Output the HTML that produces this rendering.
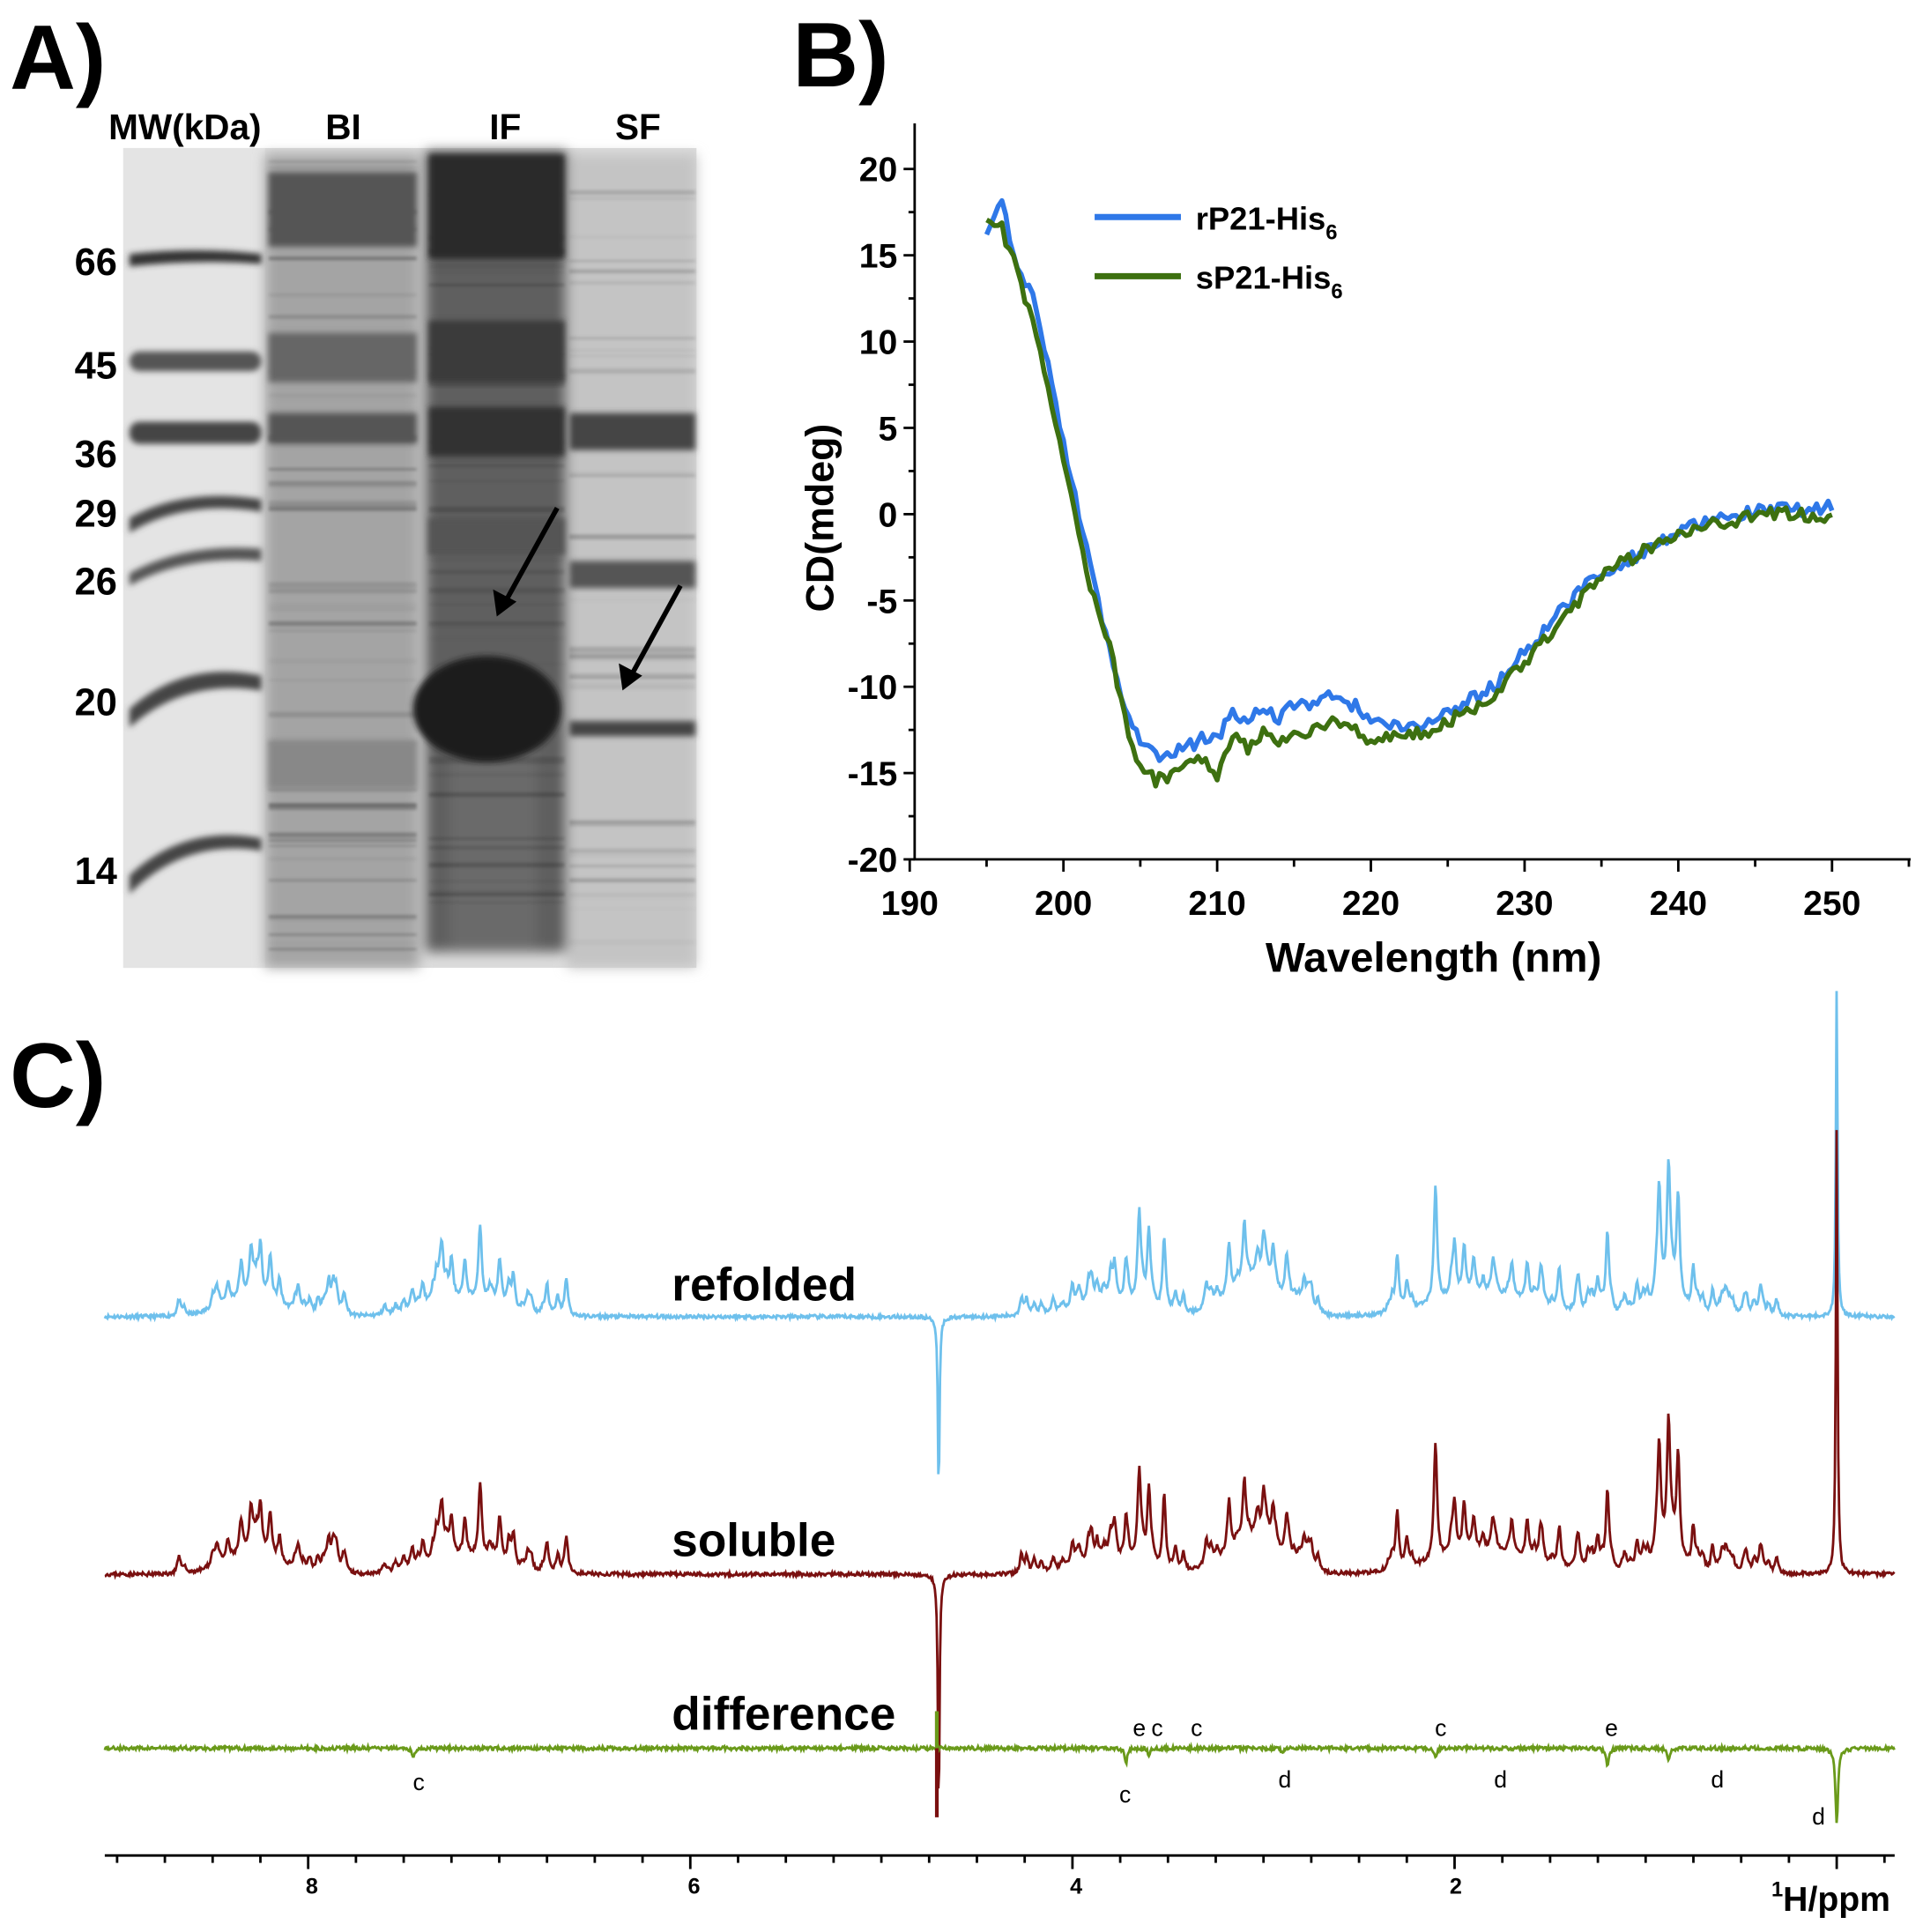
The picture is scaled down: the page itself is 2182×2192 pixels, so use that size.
<!DOCTYPE html>
<html><head><meta charset="utf-8"><style>
html,body{margin:0;padding:0;background:#fff;}
svg{display:block;}
text{font-family:"Liberation Sans",Arial,sans-serif;font-weight:bold;}
</style></head><body>
<svg id="s" width="2182" height="2192" viewBox="0 0 1560 1567" xmlns="http://www.w3.org/2000/svg">
<defs>
<filter id="b1"><feGaussianBlur stdDeviation="1.2"/></filter>
<filter id="b2"><feGaussianBlur stdDeviation="2.5"/></filter>
<filter id="b5"><feGaussianBlur stdDeviation="5"/></filter>
</defs>
<rect width="1560" height="1567" fill="#fff"/>
<text x="8" y="72" font-size="74">A)</text>
<text x="643" y="70" font-size="74">B)</text>
<text x="8" y="898" font-size="74">C)</text>

<g>
<rect x="100" y="120" width="465" height="665" fill="#dcdcdc"/>
<rect x="100" y="120" width="115" height="665" fill="#e4e4e4"/>
<g filter="url(#b5)">
<rect x="215" y="125" width="125" height="660" fill="#a4a4a4"/>
<rect x="345" y="122" width="115" height="650" fill="#5e5e5e"/>
<rect x="460" y="125" width="105" height="660" fill="#c4c4c4"/>
<rect x="365" y="600" width="70" height="170" fill="#6a6a6a"/>
</g>
<g id="gb" filter="url(#b1)"></g>
<g filter="url(#b2)">
<path d="M105 206 Q160 200 212 206 L212 214 Q160 210 105 216Z" fill="#333"/>
<rect x="105" y="285" width="107" height="16" rx="8" fill="#555"/>
<rect x="105" y="342" width="107" height="18" rx="8" fill="#444"/>
<path d="M105 420 Q150 395 212 405 L212 415 Q150 405 105 432Z" fill="#444"/>
<path d="M105 465 Q150 440 212 445 L212 455 Q150 450 105 475Z" fill="#555"/>
<path d="M105 575 Q150 535 212 548 L212 560 Q150 550 105 590Z" fill="#444"/>
<path d="M105 710 Q150 668 212 680 L212 690 Q150 680 105 725Z" fill="#444"/>
<rect x="218" y="140" width="120" height="60" fill="#555"/>
<rect x="218" y="270" width="120" height="40" fill="#666"/>
<rect x="218" y="335" width="120" height="25" fill="#555"/>
<rect x="218" y="600" width="120" height="40" fill="#888"/>
<rect x="348" y="125" width="110" height="85" fill="#2a2a2a"/>
<rect x="348" y="260" width="110" height="50" fill="#3a3a3a"/>
<rect x="348" y="330" width="110" height="40" fill="#333"/>
<rect x="348" y="420" width="110" height="30" fill="#555"/>
<ellipse cx="395" cy="575" rx="60" ry="43" fill="#1a1a1a"/>
<rect x="462" y="335" width="102" height="30" fill="#444"/>
<rect x="462" y="455" width="102" height="22" fill="#555"/>
<rect x="462" y="585" width="102" height="12" fill="#444"/>
</g>
<line x1="452" y1="412" x2="410" y2="488" stroke="#000" stroke-width="4"/>
<polygon points="403,500 400,478 419,488" fill="#000"/>
<line x1="552" y1="475" x2="512" y2="548" stroke="#000" stroke-width="4"/>
<polygon points="505,560 502,538 521,548" fill="#000"/>
</g>
<g font-size="29">
<text x="88" y="113">MW(kDa)</text>
<text x="264" y="113">BI</text>
<text x="397" y="113">IF</text>
<text x="499" y="113">SF</text>
<g text-anchor="end" font-size="31">
<text x="95" y="223">66</text><text x="95" y="307">45</text><text x="95" y="379">36</text>
<text x="95" y="427">29</text><text x="95" y="482">26</text><text x="95" y="580">20</text><text x="95" y="717">14</text>
</g></g>

<g stroke="#000" stroke-width="2" fill="none">
<path d="M742 100 V697 H1550"/>
<g id="yt"></g><g id="xt"></g>
</g>
<g id="ylab" font-size="28" text-anchor="end"></g>
<g id="xlab" font-size="28" text-anchor="middle"></g>
<text transform="translate(676 420) rotate(-90)" font-size="32" text-anchor="middle">CD(mdeg)</text>
<text x="1163" y="788" font-size="34" text-anchor="middle">Wavelength (nm)</text>
<line x1="888" y1="176" x2="958" y2="176" stroke="#2f78e8" stroke-width="5"/>
<line x1="888" y1="224" x2="958" y2="224" stroke="#3d7010" stroke-width="5"/>
<text x="970" y="186" font-size="26">rP21-His<tspan font-size="17" dy="8">6</tspan></text>
<text x="970" y="234" font-size="26">sP21-His<tspan font-size="17" dy="8">6</tspan></text>
<path id="cb" fill="none" stroke="#2f78e8" stroke-width="4" stroke-linejoin="round"/>
<path id="cg" fill="none" stroke="#3d7010" stroke-width="4" stroke-linejoin="round"/>

<path id="sr" fill="none" stroke="#6ec0ec" stroke-width="2"/>
<path id="ss" fill="none" stroke="#7a1010" stroke-width="2"/>
<path id="sd" fill="none" stroke="#6a9a1a" stroke-width="2"/>
<g font-size="38"><text x="545" y="1055">refolded</text><text x="545" y="1262">soluble</text><text x="545" y="1403">difference</text></g>
<g font-size="19">
<text x="335" y="1452" style="font-weight:normal">c</text>
<text x="908" y="1462" style="font-weight:normal">c</text>
<text x="919" y="1408" style="font-weight:normal">e</text>
<text x="934" y="1408" style="font-weight:normal">c</text>
<text x="966" y="1408" style="font-weight:normal">c</text>
<text x="1037" y="1450" style="font-weight:normal">d</text>
<text x="1164" y="1408" style="font-weight:normal">c</text>
<text x="1212" y="1450" style="font-weight:normal">d</text>
<text x="1302" y="1408" style="font-weight:normal">e</text>
<text x="1388" y="1450" style="font-weight:normal">d</text>
<text x="1470" y="1480" style="font-weight:normal">d</text>
</g>
<g stroke="#000" stroke-width="2"><line x1="85" y1="1505" x2="1537" y2="1505"/><g id="ct"></g></g>
<g font-size="18" text-anchor="middle"><text x="253" y="1536">8</text><text x="563" y="1536">6</text><text x="873" y="1536">4</text><text x="1181" y="1536">2</text></g>
<text x="1437" y="1550" font-size="28"><tspan font-size="17" dy="-12">1</tspan><tspan dy="12">H/ppm</tspan></text>
</svg>
<script>
var NS="http://www.w3.org/2000/svg";
function el(p,t,a,txt){var e=document.createElementNS(NS,t);for(var k in a)e.setAttribute(k,a[k]);if(txt!==undefined)e.textContent=txt;p.appendChild(e);return e;}
var seed=7;function rnd(){seed=(seed*16807)%2147483647;return seed/2147483647;}
// gel texture bands
(function(){var g=document.getElementById('gb');seed=99;
var lanes=[[218,120,0.25],[348,110,0.2],[462,102,0.18]];
for(var l=0;l<3;l++){for(var i=0;i<45;i++){var y=130+rnd()*640,h=1+rnd()*4;el(g,'rect',{x:lanes[l][0],y:y,width:lanes[l][1],height:h,fill:'#000','fill-opacity':(rnd()*lanes[l][2]).toFixed(2)});}}})();
var X=function(w){return 738+(w-190)*12.47},Y=function(v){return 417-v*14};
var yt=document.getElementById('yt'),yl=document.getElementById('ylab');
for(var v=-20;v<=20;v+=5){el(yt,'line',{x1:733,x2:742,y1:Y(v),y2:Y(v)});el(yl,'text',{x:728,y:Y(v)+10},String(v));}
for(var v=-17.5;v<=20;v+=5)el(yt,'line',{x1:737,x2:742,y1:Y(v),y2:Y(v)});
var xt=document.getElementById('xt'),xl=document.getElementById('xlab');
for(var w=190;w<=250;w+=10){el(xt,'line',{x1:X(w),x2:X(w),y1:697,y2:707});el(xl,'text',{x:X(w),y:742},String(w));}
for(var w=195;w<=255;w+=10)el(xt,'line',{x1:X(w),x2:X(w),y1:697,y2:703});
function interp(pts,w){for(var i=0;i<pts.length-1;i++){if(w>=pts[i][0]&&w<=pts[i+1][0]){var t=(w-pts[i][0])/(pts[i+1][0]-pts[i][0]);return pts[i][1]+t*(pts[i+1][1]-pts[i][1]);}}return pts[pts.length-1][1];}
var B=[[195,16],[196,18],[197,14],[198,12.5],[199,9],[200,4],[201,0],[202,-4],[203,-8],[204,-11],[205,-13],[206,-14],[207,-14],[208,-13.5],[209,-13],[210,-13],[211,-11.5],[212,-12],[213,-11],[214,-12],[215,-11],[216,-11],[217,-10.5],[218,-11],[219,-11],[220,-12],[222,-12.5],[224,-12],[226,-11],[228,-10],[230,-8],[232,-6],[234,-4],[236,-3],[238,-2],[240,-1],[242,-0.5],[244,0],[246,0.2],[248,0.3],[250,0.5]];
var G=[[195,17],[196,16.5],[197,14],[198,11],[199,7.5],[200,3],[201,-1],[202,-5],[203,-7.5],[204,-12],[205,-14.5],[206,-15.5],[207,-15],[208,-14.5],[209,-14],[210,-15],[211,-13],[212,-13.5],[213,-12.5],[214,-13],[215,-13],[216,-12.5],[218,-12],[220,-13],[222,-13],[224,-12.5],[226,-11.5],[228,-10.5],[230,-8.5],[232,-6.5],[234,-4.5],[236,-3],[238,-2],[240,-1],[242,-0.5],[244,-0.3],[246,0],[248,0],[250,-0.2]];
function curve(pts,id,n){var d='';for(var w=195;w<=250.01;w+=0.25){var v=interp(pts,w)+(rnd()-0.5)*n;d+=(d?'L':'M')+X(w).toFixed(1)+' '+Y(v).toFixed(1);}document.getElementById(id).setAttribute('d',d);}
curve(B,'cb',0.8);curve(G,'cg',0.8);
var ct=document.getElementById('ct');
for(var p=9;p>=-0.3;p-=0.25){var x=1490-155*p;if(x<85)continue;var maj=Math.abs(p-Math.round(p/2)*2)<1e-6;el(ct,'line',{x1:x,x2:x,y1:1505,y2:maj?1516:1511});}
var peaks=[[8.65,6],[8.5,10],[8.42,16],[8.35,25],[8.3,32],[8.25,40],[8.2,28],[8.15,20],[8.05,12],[7.95,8],[7.85,6],[7.6,8],[7.5,10],[7.4,18],[7.3,38],[7.25,32],[7.18,30],[7.1,62],[7.0,25],[6.95,20],[6.85,15],[6.75,25],[6.65,16],[4.2,10],[4.1,12],[4.0,14],[3.9,18],[3.8,22],[3.72,32],[3.65,70],[3.6,60],[3.52,60],[3.3,20],[3.18,38],[3.1,45],[3.0,36],[2.95,32],[2.88,28],[2.75,18],[2.3,45],[2.25,22],[2.1,95],[2.0,35],[1.95,40],[1.9,28],[1.8,25],[1.7,28],[1.62,32],[1.55,24],[1.45,20],[1.35,16],[1.25,22],[1.2,65],[0.93,75],[0.88,105],[0.83,85],[0.75,20],[0.65,20],[0.58,16],[0.4,10]];
(function(){seed=321;var regs=[[8.7,7.8],[7.6,6.6],[4.3,3.4],[3.3,2.7],[2.4,1.0],[1.0,0.3]];for(var r=0;r<regs.length;r++)for(var i=0;i<25;i++)peaks.push([regs[r][1]+rnd()*(regs[r][0]-regs[r][1]),3+rnd()*12]);})();
var humps=[[8.3,0.2,16],[7.2,0.25,14],[3.05,0.2,25],[3.8,0.25,10],[1.85,0.35,18],[0.88,0.1,15]];
function spec(id,base,zero,water,scale,s){seed=s;var d='';for(var x=85;x<=1537;x+=0.7){var p=(1490-x)/155,y=0;
for(var i=0;i<peaks.length;i++){var h=peaks[i][1]*scale;var dd=(p-peaks[i][0])/0.01;y+=h/(1+dd*dd);}
var dz=p/0.005;y+=zero/(1+dz*dz);
for(var i=0;i<humps.length;i++){var dd=(p-humps[i][0])/humps[i][1];y+=humps[i][2]*scale*Math.exp(-dd*dd);}
var dw=(p-4.7)/0.005;y-=water/(1+dw*dw);y+=(rnd()-0.5)*3;
d+=(d?'L':'M')+x.toFixed(1)+' '+(base-y).toFixed(1);}document.getElementById(id).setAttribute('d',d);}
spec('sr',1068,268,148,1,11);
spec('ss',1277,367,200,1.0,23);
(function(){seed=5;var d='';var neg=[[7.45,8],[3.72,12],[3.6,5],[2.9,4],[2.1,8],[1.2,16],[0.88,10],[0.0,62]];
for(var x=85;x<=1537;x+=0.7){var p=(1490-x)/155,y=(rnd()-0.5)*3;for(var i=0;i<neg.length;i++){var dd=(p-neg[i][0])/0.008;y-=neg[i][1]/(1+dd*dd);}
d+=(d?'L':'M')+x.toFixed(1)+' '+(1418-y).toFixed(1);}document.getElementById('sd').setAttribute('d',d);
var s=document.getElementById('s');el(s,'line',{x1:760,x2:760,y1:1388,y2:1474,stroke:'#7a1010','stroke-width':3});el(s,'line',{x1:760,x2:760,y1:1388,y2:1418,stroke:'#6a9a1a','stroke-width':3});})();
</script>
</body></html>
